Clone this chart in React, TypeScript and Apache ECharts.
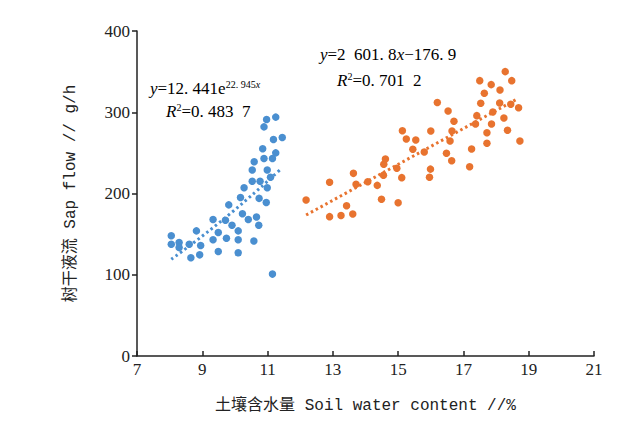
import React, { useEffect, useRef } from "react";
import * as echarts from "echarts";

const blueX = [8.05, 8.05, 8.29, 8.29, 8.6, 8.65, 8.92, 8.95, 8.82, 9.33, 9.33, 9.49, 9.49, 9.74, 9.71, 9.81, 9.91, 10.1, 10.1, 10.1, 10.17, 10.23, 10.28, 10.41, 10.58, 10.53, 10.53, 10.59, 10.66, 10.73, 10.74, 10.77, 10.85, 10.89, 10.89, 10.96, 10.99, 10.99, 10.97, 11.09, 11.15, 11.18, 11.25, 11.25, 11.45, 11.15];
const blueY = [148, 137.6, 139.6, 133.5, 137.6, 121, 124.5, 136, 154, 168, 143, 152, 128.6, 145, 167, 186, 161, 154, 143, 127, 195, 175, 207, 168, 141.6, 215, 229, 239, 171, 161, 194, 215, 255, 243, 282, 189, 207, 229, 291, 220, 243, 266.5, 250, 294, 269, 100.8];

const orangeX = [12.18, 12.9, 12.9, 13.25, 13.42, 13.61, 13.63, 13.71, 14.07, 14.36, 14.49, 14.56, 14.61, 14.55, 14.96, 15.0, 15.11, 15.13, 15.25, 15.45, 15.54, 15.8, 15.96, 15.99, 16.0, 16.2, 16.48, 16.53, 16.59, 16.65, 16.64, 16.71, 17.19, 17.25, 17.37, 17.41, 17.5, 17.53, 17.64, 17.72, 17.72, 17.85, 17.86, 17.9, 18.12, 18.11, 18.24, 18.28, 18.35, 18.45, 18.48, 18.69, 18.73];
const orangeY = [192, 213.8, 171.5, 173, 185, 174.8, 224.8, 211.3, 214.5, 210, 193, 236, 242.5, 222.4, 231, 188.7, 219.5, 277.3, 267, 254.4, 265.8, 251, 220, 230, 277, 312, 249.5, 301.5, 264.6, 277, 240.4, 289, 233, 254.8, 285.5, 295.8, 338.9, 311, 323.3, 261.8, 274.8, 334, 285.5, 300.3, 327.4, 311.4, 293, 350, 277.8, 309.8, 338.9, 305.6, 264.6];

const blueTrendX = [8.05, 9.7, 11.38];
const blueTrendY = [119, 170, 229];
const orangeTrendX = [12.18, 18.63];
const orangeTrendY = [173.5, 316];

const xTicks = [7, 21, 2];
const yTicks = [0, 400, 100];

const BLUE = "#4a8fd0";
const ORANGE = "#e8732f";
const SERIF = "'Liberation Serif', 'Times New Roman', serif";
const MONO = "'Liberation Mono', 'Noto Sans CJK SC', monospace";

const zip = (a: number[], b: number[]) => a.map((v, i) => [v, b[i]]);

export default function App() {
  const ref = useRef<HTMLDivElement>(null);
  useEffect(() => {
    if (!ref.current) return;
    const chart = echarts.init(ref.current, undefined, { renderer: "svg" });
    const eqRich = {
      i: { fontFamily: SERIF, fontStyle: "italic", fontSize: 17, color: "#222" },
      n: { fontFamily: SERIF, fontSize: 17, color: "#222" },
      sup: { fontFamily: SERIF, fontSize: 10, color: "#222", padding: [0, 0, 9, 0] },
      supi: { fontFamily: SERIF, fontSize: 10, fontStyle: "italic", color: "#222", padding: [0, 0, 9, 0] },
    };
    chart.setOption({
      animation: false,
      backgroundColor: "#fff",
      grid: { left: 137, right: 37, top: 31, bottom: 65 },
      xAxis: {
        type: "value",
        min: xTicks[0],
        max: xTicks[1],
        interval: xTicks[2],
        name: "土壤含水量 Soil water content //%",
        nameLocation: "middle",
        nameGap: 42,
        nameTextStyle: { fontFamily: MONO, fontSize: 16, color: "#222" },
        axisLine: { lineStyle: { color: "#222", width: 1.5 } },
        axisTick: { inside: true, length: 5, lineStyle: { color: "#222", width: 1.5 } },
        axisLabel: { fontFamily: SERIF, fontSize: 17, color: "#222", margin: 5 },
        splitLine: { show: false },
      },
      yAxis: {
        type: "value",
        min: yTicks[0],
        max: yTicks[1],
        interval: yTicks[2],
        name: "树干液流 Sap flow // g/h",
        nameLocation: "middle",
        nameGap: 58,
        nameTextStyle: { fontFamily: MONO, fontSize: 16, color: "#222" },
        axisLine: { show: true, lineStyle: { color: "#222", width: 1.5 } },
        axisTick: { show: true, length: 5, lineStyle: { color: "#222", width: 1.5 } },
        axisLabel: { fontFamily: SERIF, fontSize: 17, color: "#222", margin: 7 },
        splitLine: { show: false },
      },
      series: [
        {
          type: "line",
          data: zip(blueTrendX, blueTrendY),
          showSymbol: false,
          smooth: true,
          lineStyle: { color: BLUE, width: 3, type: [2.5, 3] },
          z: 1,
        },
        {
          type: "line",
          data: zip(orangeTrendX, orangeTrendY),
          showSymbol: false,
          lineStyle: { color: ORANGE, width: 3, type: [2.5, 3] },
          z: 1,
        },
        {
          type: "scatter",
          data: zip(blueX, blueY),
          symbolSize: 7.5,
          itemStyle: { color: BLUE, opacity: 1 },
          z: 2,
        },
        {
          type: "scatter",
          data: zip(orangeX, orangeY),
          symbolSize: 7.5,
          itemStyle: { color: ORANGE, opacity: 1 },
          z: 2,
        },
      ],
      graphic: [
        {
          type: "text",
          left: 320,
          top: 46,
          style: {
            text: "{i|y}{n|=2  601. 8}{i|x}{n|−176. 9}",
            rich: eqRich,
          },
        },
        {
          type: "text",
          left: 337,
          top: 71,
          style: {
            text: "{i|R}{sup|2}{n|=0. 701  2}",
            rich: eqRich,
          },
        },
        {
          type: "text",
          left: 150,
          top: 79,
          style: {
            text: "{i|y}{n|=12. 441e}{sup|22. 945}{supi|x}",
            rich: eqRich,
          },
        },
        {
          type: "text",
          left: 166,
          top: 102,
          style: {
            text: "{i|R}{sup|2}{n|=0. 483  7}",
            rich: eqRich,
          },
        },
      ],
    });
    return () => chart.dispose();
  }, []);
  return (
    <div
      ref={ref}
      style={{ position: "absolute", left: 0, top: 0, width: 631, height: 421 }}
    />
  );
}
